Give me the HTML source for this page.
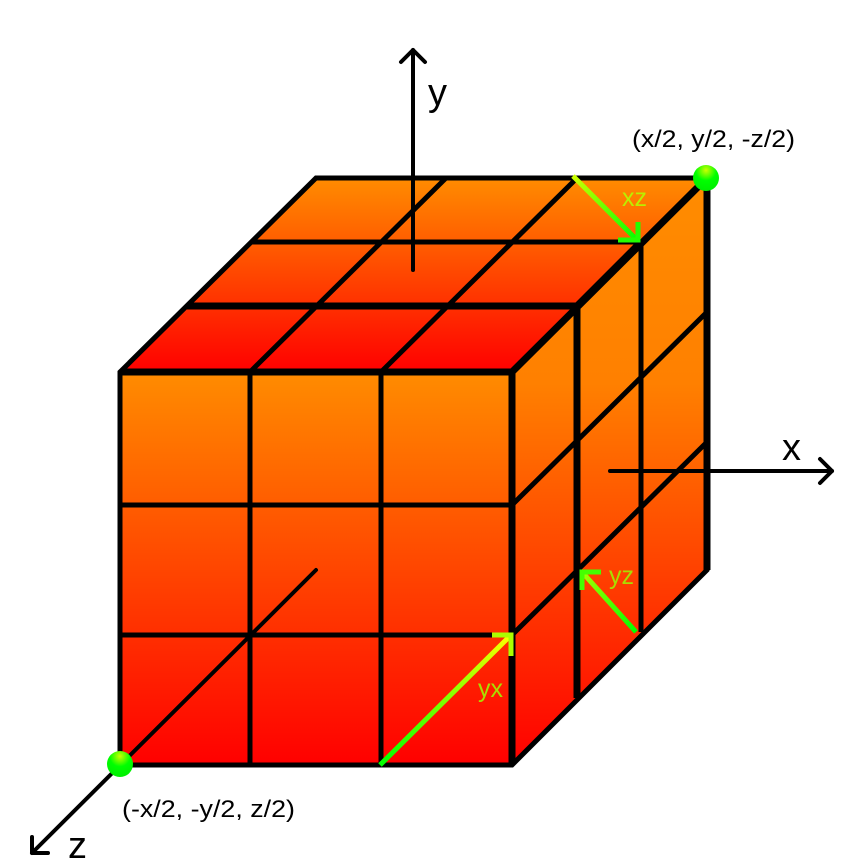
<!DOCTYPE html>
<html><head><meta charset="utf-8"><style>
html,body{margin:0;padding:0;background:#fff;}
svg{display:block;font-family:"Liberation Sans",sans-serif;}
</style></head><body>
<svg width="850" height="859" viewBox="0 0 850 859">
<defs>
<linearGradient id="gFront" x1="0" y1="0" x2="0" y2="1"><stop offset="0" stop-color="#ff8c00"/><stop offset="1" stop-color="#ff0000"/></linearGradient>
<linearGradient id="gRight" gradientUnits="userSpaceOnUse" x1="0" y1="178" x2="0" y2="765"><stop offset="0" stop-color="#ff8c00"/><stop offset="0.35" stop-color="#ff8000"/><stop offset="1" stop-color="#ff0000"/></linearGradient>
<linearGradient id="gTop" gradientUnits="userSpaceOnUse" x1="0" y1="178" x2="0" y2="372"><stop offset="0" stop-color="#ff8c00"/><stop offset="1" stop-color="#ff0000"/></linearGradient>
<linearGradient id="gArrow1" gradientUnits="userSpaceOnUse" x1="380" y1="765" x2="512" y2="635"><stop offset="0" stop-color="#00ff00"/><stop offset="1" stop-color="#ffff00"/></linearGradient>
<linearGradient id="gArrow2" gradientUnits="userSpaceOnUse" x1="573" y1="178" x2="638" y2="240"><stop offset="0" stop-color="#ccff00"/><stop offset="1" stop-color="#00ff00"/></linearGradient>
<linearGradient id="gArrow3" gradientUnits="userSpaceOnUse" x1="636" y1="632" x2="580" y2="572"><stop offset="0" stop-color="#00ff00"/><stop offset="1" stop-color="#aaff00"/></linearGradient>
<radialGradient id="gDot" cx="0.5" cy="0.2" r="0.8"><stop offset="0" stop-color="#ccff00"/><stop offset="0.5" stop-color="#00ff00"/><stop offset="1" stop-color="#00ee00"/></radialGradient>
</defs>

<polygon points="120,372 316,178 707,178 512,372" fill="url(#gTop)"/>
<polygon points="512,372 707,178 707,570 512,765" fill="url(#gRight)"/>
<rect x="120" y="372" width="392" height="393" fill="url(#gFront)"/>

<g stroke="#000" stroke-linecap="butt" fill="none">
<line x1="250" y1="372" x2="250" y2="765" stroke-width="5"/>
<line x1="381" y1="372" x2="381" y2="765" stroke-width="5"/>
<line x1="120" y1="505" x2="512" y2="505" stroke-width="5"/>
<line x1="120" y1="635" x2="512" y2="635" stroke-width="5"/>
<line x1="250" y1="372" x2="446" y2="178" stroke-width="5"/>
<line x1="381" y1="372" x2="577" y2="178" stroke-width="5"/>
<line x1="252" y1="242" x2="641" y2="242" stroke-width="5"/>
<line x1="187" y1="306" x2="577" y2="306" stroke-width="7"/>
<line x1="577" y1="306" x2="577" y2="698" stroke-width="7"/>
<line x1="641" y1="242" x2="641" y2="632" stroke-width="5"/>
<line x1="512" y1="505" x2="707" y2="312" stroke-width="5"/>
<line x1="512" y1="635" x2="707" y2="442" stroke-width="5"/>
<line x1="577" y1="306" x2="641" y2="242" stroke-width="7"/>
<polygon points="120,372 316,178 707,178 707,570 512,765 120,765" stroke-width="5" stroke-linejoin="miter"/>
<line x1="120" y1="372" x2="512" y2="372" stroke-width="7"/>
<line x1="512" y1="372" x2="512" y2="765" stroke-width="7"/>
<line x1="512" y1="372" x2="707" y2="178" stroke-width="7"/>
<line x1="707" y1="178" x2="707" y2="570" stroke-width="7"/>
</g>

<g stroke="#000" stroke-width="4" fill="none" stroke-linecap="round" stroke-linejoin="round">
<g><line x1="413" y1="270" x2="413" y2="50"/><polyline points="401,62 413,50 425,62"/></g>
<g><line x1="610" y1="471" x2="832" y2="471"/><polyline points="820,459 832,471 820,483"/></g>
<g><line x1="316" y1="570" x2="32" y2="853"/><polyline points="32,837 32,853 48,853"/></g>
</g>
<text x="428" y="105" font-size="38">y</text>
<text x="782" y="460" font-size="38">x</text>
<text x="68" y="858" font-size="38">z</text>

<g fill="none" stroke-width="5">
<g><line x1="380" y1="765" x2="510" y2="636" stroke="url(#gArrow1)"/><polyline points="492,635 511,635 511,656" stroke="#aaff00"/></g>
<g><line x1="573" y1="176" x2="637" y2="240" stroke="url(#gArrow2)"/><polyline points="618,240 638,240 638,222" stroke="#22ff00"/></g>
<g><line x1="636" y1="632" x2="582" y2="572" stroke="url(#gArrow3)"/><polyline points="582,590 582,572 601,572" stroke="#44ff00"/></g>
</g>
<text x="478" y="697" font-size="25" fill="#aadd00">yx</text>
<text x="622" y="206" font-size="25" fill="#bbee00">xz</text>
<text x="609" y="584" font-size="25" fill="#aadd00">yz</text>

<circle cx="706" cy="178" r="13" fill="url(#gDot)"/>
<circle cx="120" cy="764" r="13" fill="url(#gDot)"/>
<text x="632" y="147" font-size="24" textLength="163" lengthAdjust="spacingAndGlyphs">(x/2, y/2, -z/2)</text>
<text x="122" y="817" font-size="24" textLength="173" lengthAdjust="spacingAndGlyphs">(-x/2, -y/2, z/2)</text>
</svg>
</body></html>
